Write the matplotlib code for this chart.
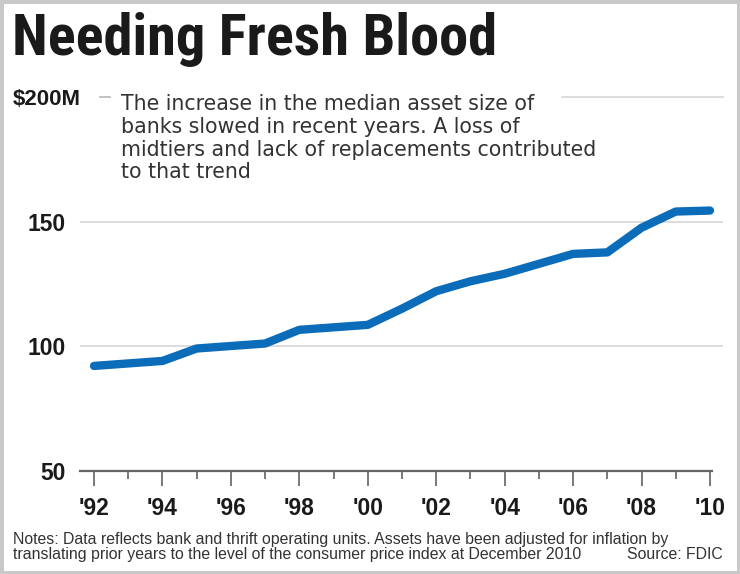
from matplotlib import pyplot as plt
from matplotlib.patches import Rectangle
from matplotlib.ticker import MultipleLocator

plt.rcParams['font.family'] = ['Liberation Sans', 'DejaVu Sans']

years = [1992, 1993, 1994, 1995, 1996, 1997, 1998, 1999, 2000, 2001,
         2002, 2003, 2004, 2005, 2006, 2007, 2008, 2009, 2010]
assets = [92, 93, 94, 99, 100, 101, 106.5, 107.5, 108.5, 115,
          122, 126, 129, 133, 137, 137.6, 147.5, 154, 154.4]

tick_years = [1992, 1994, 1996, 1998, 2000, 2002, 2004, 2006, 2008, 2010]
tick_labels = ["'92", "'94", "'96", "'98", "'00", "'02", "'04", "'06", "'08", "'10"]
y_ticks = [50, 100, 150]

title = 'Needing Fresh Blood'
blurb = ['The increase in the median asset size of',
         'banks slowed in recent years. A loss of',
         'midtiers and lack of replacements contributed',
         'to that trend']
notes = ['Notes: Data reflects bank and thrift operating units. Assets have been adjusted for inflation by',
         'translating prior years to the level of the consumer price index at December 2010']

H = 574.0  # px height, handy for placing text from the top

fig = plt.figure(figsize=(7.4, 5.74), dpi=100)
fig.patches.append(Rectangle((0, 0), 1, 1, transform=fig.transFigure,
                             fill=False, edgecolor='#c8c8c8', linewidth=5))

ax = fig.add_axes([0.1081, 0.1803, 0.8689, 0.6507])
ax.set_xlim(1991.59, 2010.38)
ax.set_ylim(50, 200)

# gridlines
for v in [100, 150]:
    ax.axhline(v, color='#d6d6d6', linewidth=1.2, zorder=1)
ax.plot([2005.67, 2010.38], [200, 200], color='#d6d6d6', linewidth=1.2, clip_on=False)
ax.plot([1991.59, 2010.06], [50, 50], color='#666666', linewidth=1.6, clip_on=False)

ax.plot(years, assets, color='#0b6cba', linewidth=6, solid_capstyle='round',
        solid_joinstyle='round', zorder=3)

for s in ax.spines.values():
    s.set_visible(False)

ax.set_xticks(tick_years)
ax.set_xticklabels(tick_labels, fontweight='bold')
ax.xaxis.set_minor_locator(MultipleLocator(1))
ax.tick_params(axis='x', which='major', direction='out', length=11, width=1.1,
               color='#555555', labelsize=16.5, pad=8, labelcolor='#1a1a1a')
ax.tick_params(axis='x', which='minor', direction='out', length=6, width=1.1,
               color='#555555')
ax.set_yticks(y_ticks)
ax.set_yticklabels([str(v) for v in y_ticks], fontweight='bold')
ax.tick_params(axis='y', length=0, labelsize=16.5, pad=10, labelcolor='#1a1a1a')

fig.text(12 / 740, 1 - 55 / H, title, fontsize=42, fontweight='bold',
         family=['Roboto Condensed', 'DejaVu Sans'], color='#1a1a1a', va='baseline')
fig.text(13 / 740, 1 - 105 / H, '$200M', fontsize=16, fontweight='bold',
         color='#1a1a1a', va='baseline')
fig.lines.append(plt.Line2D([100 / 740, 110 / 740], [1 - 97 / H, 1 - 97 / H],
                            transform=fig.transFigure, color='#b8b8b8', linewidth=1.2))
for i, line in enumerate(blurb):
    fig.text(121 / 740, 1 - (110.5 + 22.5 * i) / H, line, fontsize=14.8,
             family=['DejaVu Sans'], color='#333333', va='baseline')

fig.text(13 / 740, 1 - 544 / H, notes[0], fontsize=11.4, color='#333333', va='baseline')
fig.text(13 / 740, 1 - 559 / H, notes[1], fontsize=11.4, color='#333333', va='baseline')
fig.text(723 / 740, 1 - 559 / H, 'Source: FDIC', fontsize=11.4, color='#333333',
         ha='right', va='baseline')

fig.savefig('out.png', dpi=100)
